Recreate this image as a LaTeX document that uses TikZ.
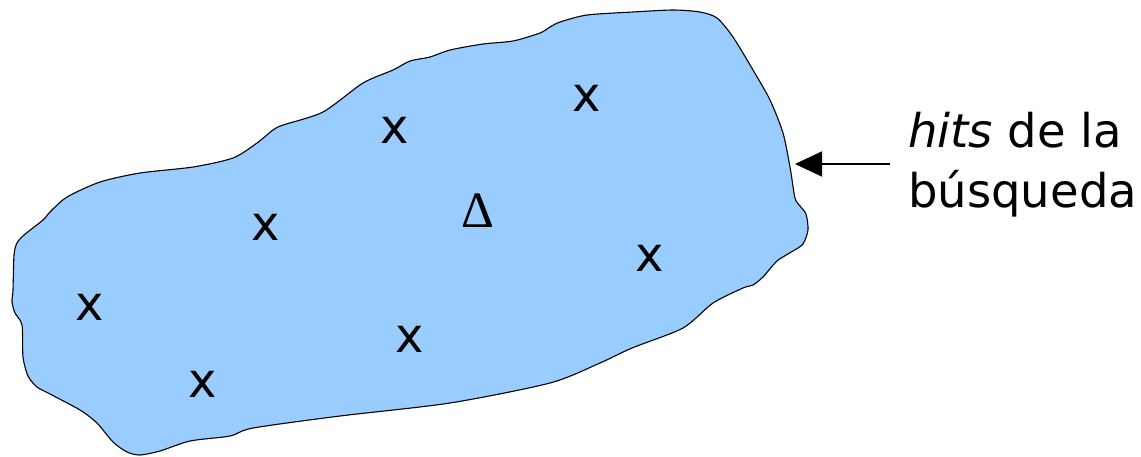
\documentclass[tikz,border=0pt]{standalone}
\usepackage{fontspec}
\setmainfont{DejaVu Sans}
\newfontfamily\greekserif{Liberation Serif}
\usetikzlibrary{arrows.meta}
\definecolor{blobfill}{HTML}{99CCFF}
\tikzset{
  blob/.style={draw=black, line width=1.1pt, fill=blobfill},
  hitmark/.style={inner sep=0pt, font=\fontsize{48}{48}\selectfont},
  label/.style={inner sep=0pt, anchor=base west, font=\fontsize{46.5}{56}\selectfont},
  pointer/.style={line width=1.8pt, -{Triangle[length=27pt,width=25pt]}}
}
\begin{document}
\begin{tikzpicture}[x=1pt,y=-1pt]
\useasboundingbox (0,0) rectangle (1141,456);
\draw[blob] plot[smooth cycle, tension=0.45] coordinates {
 (550,27) (560,22) (587,15) (633,12) (673,10) (700,12) (717,18) (733,37)
 (753,70) (770,100) (783,133) (790,167) (795,198) (800,206) (806,214)
 (808,230) (803,244) (793,251) (777,261) (763,277) (753,285) (743,288)
 (713,303) (683,328) (632,348) (600,363) (550,383) (450,403) (340,416)
 (253,428) (230,436) (190,441) (160,451) (140,455) (127,452) (113,442)
 (97,423) (80,410) (50,394) (37,387) (28,376) (23,357) (22,325) (15,313)
 (12,302) (13,290) (14,255) (17,243) (24,235) (43,220) (50,212) (67,197)
 (100,182) (140,173) (193,167) (233,158) (257,143) (273,130) (283,125)
 (323,112) (363,83) (393,70) (410,61) (430,57) (450,50) (483,44) (513,41)
 (540,33)
};
\node[hitmark] (x1) at (395,130) {x};
\node[hitmark] (x2) at (587,98) {x};
\node[hitmark] (x3) at (266,227) {x};
\node[hitmark] (x4) at (650,258) {x};
\node[hitmark] (x5) at (90,307) {x};
\node[hitmark] (x6) at (410,339) {x};
\node[hitmark] (x7) at (203,384) {x};
\node[inner sep=0pt, anchor=base, font=\greekserif\fontsize{51}{51}\selectfont] (delta) at (478,227) {Δ};
\node[label] (t1) at (908,147) {\textit{hits} de la};
\node[label] (t2) at (908,207) {búsqueda};
\coordinate (tail) at (890,164);
\coordinate (hit) at (795,164);
\draw[pointer] (tail) -- (hit);
\end{tikzpicture}
\end{document}
